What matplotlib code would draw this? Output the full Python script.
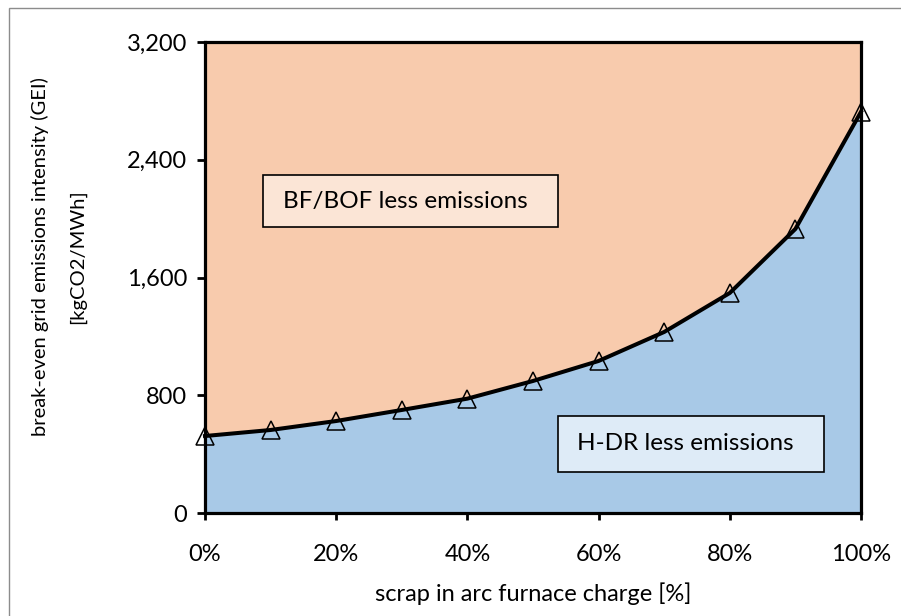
import matplotlib
matplotlib.use('Agg')
import matplotlib.pyplot as plt
from matplotlib.patches import Rectangle
from matplotlib.ticker import FuncFormatter

# data
scrap_pct = [0, 10, 20, 30, 40, 50, 60, 70, 80, 90, 100]
gei = [523, 564, 625, 700, 777, 897, 1033, 1230, 1495, 1930, 2726]
x_ticks = [0, 20, 40, 60, 80, 100]
y_ticks = [0, 800, 1600, 2400, 3200]

plt.rcParams['font.family'] = ['Lato', 'DejaVu Sans']

W, H = 901, 616
fig = plt.figure(figsize=(W / 100, H / 100), dpi=100)
ax = fig.add_axes([205 / W, 1 - 513 / H, (861 - 205) / W, (513 - 42) / H])

# regions
ax.fill_between(scrap_pct, gei, 3200, color='#F8CBAD', lw=0, zorder=1)
ax.fill_between(scrap_pct, 0, gei, color='#A8C9E7', lw=0, zorder=1)
ax.plot(scrap_pct, gei, color='black', lw=2.9, zorder=3, clip_on=False)
ax.plot(scrap_pct, gei, ls='none', marker='^', ms=13.5, mfc='none', mec='black',
        mew=1.1, zorder=4, clip_on=False)

ax.set_xlim(0, 100)
ax.set_ylim(0, 3200)
ax.set_xticks(x_ticks)
ax.set_yticks(y_ticks)
ax.xaxis.set_major_formatter(FuncFormatter(lambda v, p: f'{int(v)}%'))
ax.yaxis.set_major_formatter(FuncFormatter(lambda v, p: f'{int(v):,}'))

for s in ax.spines.values():
    s.set_linewidth(2.3)
    s.set_zorder(5)
ax.tick_params(axis='x', length=5, width=2, pad=17, labelsize=17)
ax.tick_params(axis='y', length=6, width=2, pad=7, labelsize=17)

ax.set_xlabel('scrap in arc furnace charge [%]', fontsize=17, labelpad=13)

fig.text(40 / W, 1 - 257 / H, 'break-even grid emissions intensity (GEI)',
         rotation=90, ha='center', va='center', fontsize=14.5)
fig.text(77 / W, 1 - 257 / H, '[kgCO2/MWh]',
         rotation=90, ha='center', va='center', fontsize=14.5)

# annotation boxes
ax.add_patch(Rectangle((0.0884, 0.607), 0.4497, 0.1106, transform=ax.transAxes,
                       facecolor='#FBE5D6', edgecolor='black', lw=1.2, zorder=6))
ax.text(0.1189, 0.662, 'BF/BOF less emissions', transform=ax.transAxes,
        ha='left', va='center', fontsize=17.5, zorder=7)
ax.add_patch(Rectangle((0.538, 0.087), 0.4056, 0.119, transform=ax.transAxes,
                       facecolor='#DEEBF7', edgecolor='black', lw=1.2, zorder=6))
ax.text(0.567, 0.1465, 'H-DR less emissions', transform=ax.transAxes,
        ha='left', va='center', fontsize=17.5, zorder=7)

# thin grey frame of the chart area
fig.add_artist(Rectangle((8.5 / W, -0.1), 1.2, 1.1 - 7.5 / H, transform=fig.transFigure,
                         fill=False, edgecolor='#8c8c8c', lw=1))

fig.savefig('out.png', dpi=100)
